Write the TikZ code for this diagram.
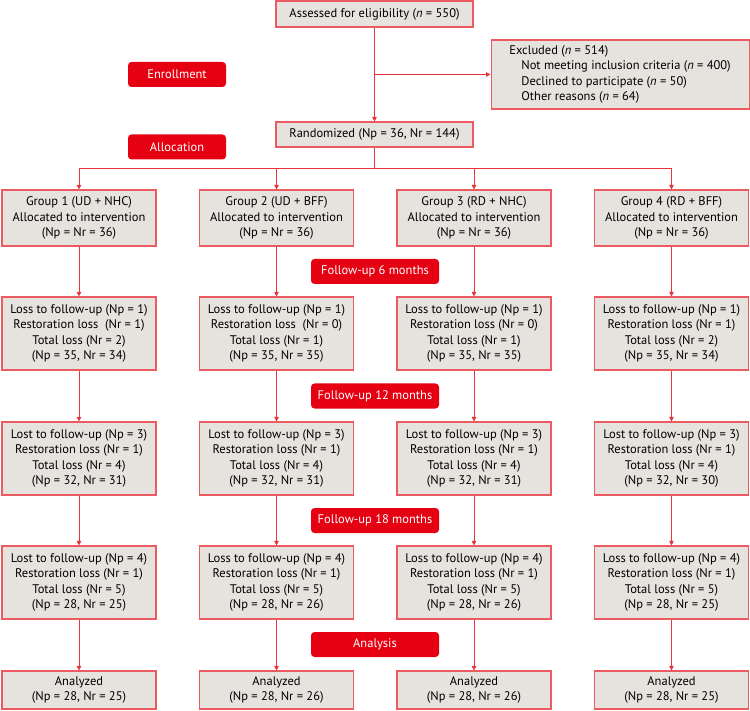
\documentclass[tikz,border=0pt]{standalone}
\usepackage{fontspec}
\setmainfont{PT Sans}
\usepackage{xcolor}
\usetikzlibrary{arrows.meta}

\definecolor{boxfill}{HTML}{E6E2DE}
\definecolor{boxline}{HTML}{EC5B61}
\definecolor{tagred}{HTML}{E50012}
\definecolor{flowline}{HTML}{E8343C}

\begin{document}
\begin{tikzpicture}[x=1pt, y=-1pt,
    every node/.style={font=\fontsize{12.5}{15.3}\selectfont},
    stage/.style={draw=boxline, line width=1.1pt, fill=boxfill, align=center, minimum width=154pt, inner sep=0pt},
    phase/.style={fill=tagred, text=white, rounded corners=3.5pt, minimum width=128pt, minimum height=25pt, inner sep=0pt},
    flow/.style={draw=flowline, line width=0.9pt, -{Triangle[length=4.5pt, width=4.5pt]}},
    wire/.style={draw=flowline, line width=0.9pt}]
    \useasboundingbox (0,0) rectangle (750,711);
    % top part
    \node[stage, minimum width=197pt, minimum height=26pt] (assess) at (374.5,14) {Assessed for eligibility (\textit{n} = 550)};
    \node[stage, minimum width=197pt, minimum height=25pt] (rand) at (374.5,134.5) {Randomized (Np = 36, Nr = 144)};
    \node[stage, minimum width=258pt, minimum height=69pt, inner xsep=16pt, align=left, anchor=west] (excl) at (490.5,74.5)
        {Excluded (\textit{n} = 514)\\
         \hspace*{12pt}Not meeting inclusion criteria (\textit{n} = 400)\\
         \hspace*{12pt}Declined to participate (\textit{n} = 50)\\
         \hspace*{12pt}Other reasons (\textit{n} = 64)};
    \node[phase, minimum width=98pt] (enroll) at (177,74.5) {Enrollment};
    \node[phase, minimum width=98pt] (alloc) at (177,147) {Allocation};
    \coordinate (split) at (assess.south |- excl.west);
    \coordinate (bus) at (374.5,168);
    \draw[flow] (assess) -- (rand);
    \draw[flow] (split) -- (excl);
    % phase labels
    \node[phase] (fu6) at (375,271.5) {Follow-up 6 months};
    \node[phase] (fu12) at (375,396) {Follow-up 12 months};
    \node[phase] (fu18) at (375,520.5) {Follow-up 18 months};
    \node[phase] (anal) at (375,644.5) {Analysis};
    % four arms
    \foreach \c/\x/\arm in {1/79/UD + NHC, 2/276.5/UD + BFF, 3/474/RD + NHC, 4/671.5/RD + BFF}
        \node[stage, minimum height=56pt] (g\c) at (\x,218) {Group \c\ (\arm)\\Allocated to intervention\\(Np = Nr = 36)};
    \foreach \c/\x/\rl/\t/\n in {1/79/Restoration loss\ \ (Nr = 1)/2/34, 2/276.5/Restoration loss\ \ (Nr = 0)/1/35,
                                3/474/Restoration loss (Nr = 0)/1/35, 4/671.5/Restoration loss (Nr = 1)/2/34}
        \node[stage, minimum height=73pt] (m6\c) at (\x,333.5) {Loss to follow-up (Np = 1)\\\rl\\Total loss (Nr = \t)\\(Np = 35, Nr = \n)};
    \foreach \c/\x/\n in {1/79/31, 2/276.5/31, 3/474/31, 4/671.5/30}
        \node[stage, minimum height=73pt] (m12\c) at (\x,458.5) {Lost to follow-up (Np = 3)\\Restoration loss (Nr = 1)\\Total loss (Nr = 4)\\(Np = 32, Nr = \n)};
    \foreach \c/\x/\lt/\n in {1/79/Lost/25, 2/276.5/Loss/26, 3/474/Loss/26, 4/671.5/Loss/25}
        \node[stage, minimum height=73pt] (m18\c) at (\x,582.5) {\lt\ to follow-up (Np = 4)\\Restoration loss (Nr = 1)\\Total loss (Nr = 5)\\(Np = 28, Nr = \n)};
    \foreach \c/\x/\n in {1/79/25, 2/276.5/26, 3/474/26, 4/671.5/25}
        \node[stage, minimum height=38pt] (an\c) at (\x,690) {Analyzed\\(Np = 28, Nr = \n)};
    % connectors
    \draw[wire] (rand) -- (bus);
    \draw[wire] (bus -| g1) -- (bus -| g4);
    \foreach \c in {1,2,3,4} {
        \draw[flow] (bus -| g\c) -- (g\c);
        \draw[flow] (g\c) -- (m6\c);
        \draw[flow] (m6\c) -- (m12\c);
        \draw[flow] (m12\c) -- (m18\c);
        \draw[flow] (m18\c) -- (an\c);
    }
\end{tikzpicture}
\end{document}
